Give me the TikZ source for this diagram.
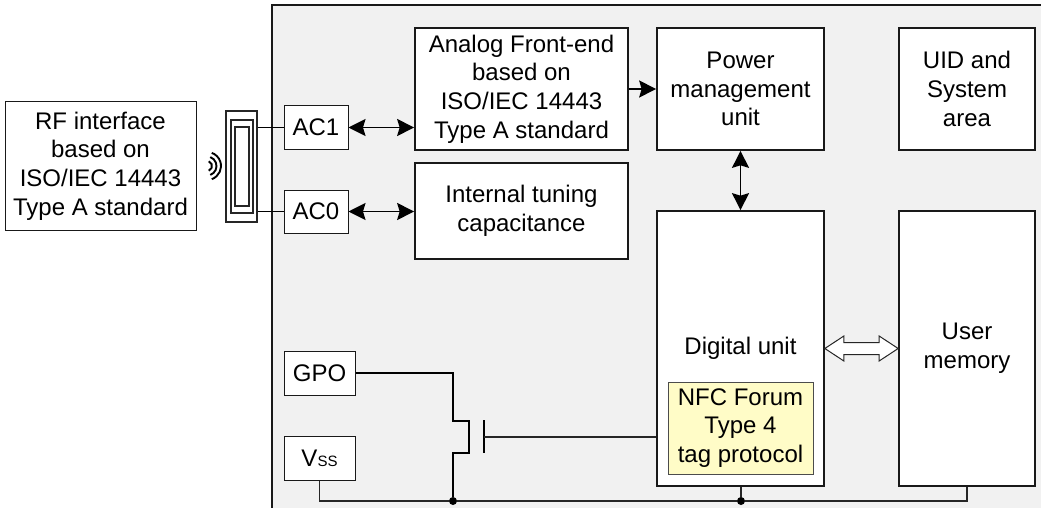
\documentclass[tikz,border=0pt]{standalone}
\usepackage{fontspec}
\setmainfont{Liberation Sans}
\usetikzlibrary{arrows.meta,calc}
\tikzset{
  blk/.style={draw=black!90,line width=1.7pt,fill=white,align=center,inner sep=0pt,
    font=\fontsize{24}{28.8}\selectfont,text=black},
  thinblk/.style={blk,line width=1pt},
  wire/.style={draw=black!85,line width=1.1pt},
  wirebold/.style={draw=black,line width=1.7pt},
  both/.style={wirebold,{Stealth[length=17pt,width=17pt,inset=2.5pt]}-{Stealth[length=17pt,width=17pt,inset=2.5pt]}},
  tip/.style={wirebold,-{Stealth[length=17pt,width=17pt,inset=2.5pt]}},
  dot/.style={circle,fill=black,inner sep=0pt,minimum size=8pt},
  coil/.style={draw=black!85,line width=1.5pt,fill=none},
  wave/.style={draw=black,line width=1.9pt}
}
\begin{document}
\begin{tikzpicture}[x=1pt,y=-1pt]
\useasboundingbox (0,0) rectangle (1041,508);
% panel
\fill[black!5.5] (272,5) rectangle (1041,508);
\draw[black!90,line width=1.7pt] (272,508) -- (272,5) -- (1041,5);
% left blocks
\node[thinblk,minimum width=191pt,minimum height=128pt] (rf) at (100.5,166) {RF interface\\based on\\ISO/IEC 14443\\Type A standard};
% antenna
\node[coil,draw,minimum width=31pt,minimum height=111pt,inner sep=0pt,fill=white] (coilA) at (241.5,166.5) {};
\node[coil,draw,minimum width=22pt,minimum height=93pt,inner sep=0pt] (coilB) at (242,166.5) {};
\node[coil,draw,minimum width=14pt,minimum height=79pt,inner sep=0pt] (coilC) at (242,166.5) {};
% waves
\coordinate (w) at (207,166);
\foreach \r in {5,9.5,14}{
  \draw[wave] ($(w)+({\r*cos(70)},{\r*sin(70)})$) arc[start angle=-70,end angle=70,radius=\r pt,x radius=\r pt,y radius=\r pt];
}
% pads
\node[thinblk,minimum width=64pt,minimum height=43pt] (ac1) at (316,127.5) {AC1};
\node[thinblk,minimum width=64pt,minimum height=43pt] (ac0) at (316,211.5) {AC0};
\node[thinblk,minimum width=71pt,minimum height=44pt] (gpo) at (319.5,373) {GPO};
\node[thinblk,minimum width=71pt,minimum height=44pt] (vss) at (319.5,458) {V{\fontsize{15}{15}\selectfont SS}};
% main blocks
\node[blk,minimum width=213pt,minimum height=122pt] (afe) at (521.5,89) {Analog Front-end\\based on\\ISO/IEC 14443\\Type A standard};
\node[blk,minimum width=213pt,minimum height=96pt] (tune) at (521.5,211) {Internal tuning\\capacitance};
\node[blk,minimum width=167pt,minimum height=122pt] (pmu) at (740.5,89) {Power\\management\\unit};
\node[blk,minimum width=136pt,minimum height=122pt] (uid) at (967,89) {UID and\\System\\area};
\node[blk,minimum width=167pt,minimum height=275pt] (dig) at (740.5,348.5) {};
\node[blk,anchor=center] at (740.5,348.5) [draw=none,fill=none] (digt) {Digital unit};
\node[blk,minimum width=136pt,minimum height=275pt] (mem) at (967,348.5) {User\\memory};
\node[thinblk,fill=yellow!22,draw=black!70,minimum width=145pt,minimum height=92pt] (nfc) at (740.5,428) {NFC Forum\\Type 4\\tag protocol};
% connectors
\draw[wirebold] (coilA.east |- ac1) -- (ac1.west);
\draw[wirebold] (coilA.east |- ac0) -- (ac0.west);
\draw[both] (ac1.east) -- (ac1 -| afe.west);
\draw[both] (ac0.east) -- (ac0 -| tune.west);
\draw[tip] (afe.east) -- (pmu.west);
\draw[both] (pmu.south) -- (dig.north);
% hollow double arrow
\draw[black!85,line width=1pt,fill=white,line join=miter]
  (dig.east) -- ++(19,-12.5) -- ++(0,6.5) -- ($(mem.west)+(-19,-6)$) -- ++(0,-6.5) -- (mem.west)
  -- ++(-19,12.5) -- ++(0,-6.5) -- ($(dig.east)+(19,6)$) -- ++(0,6.5) -- cycle;
% transistor
\coordinate (dt) at (453,421);
\coordinate (db) at (453,453);
\coordinate (ct) at (469,421);
\coordinate (cb) at (469,453);
\coordinate (gtop) at (484,420);
\coordinate (gbot) at (484,453);
\coordinate (gmid) at (484,437);
\node[dot] (j1) at (453,501) {};
\node[dot] (j2) at (741,501) {};
\draw[wirebold] (gpo.east) -| (dt) -- (ct) -- (cb) -- (db) -- (j1);
\draw[wirebold] (gtop) -- (gbot);
\draw[wire] (gmid) -- (gmid -| dig.west);
\draw[wire] (vss.south) |- (j1);
\draw[wire] (j1) -- (j2);
\draw[wire] (j2) -| (mem.south);
\draw[wire] (j2) -- (j2 |- dig.south);
\end{tikzpicture}
\end{document}
